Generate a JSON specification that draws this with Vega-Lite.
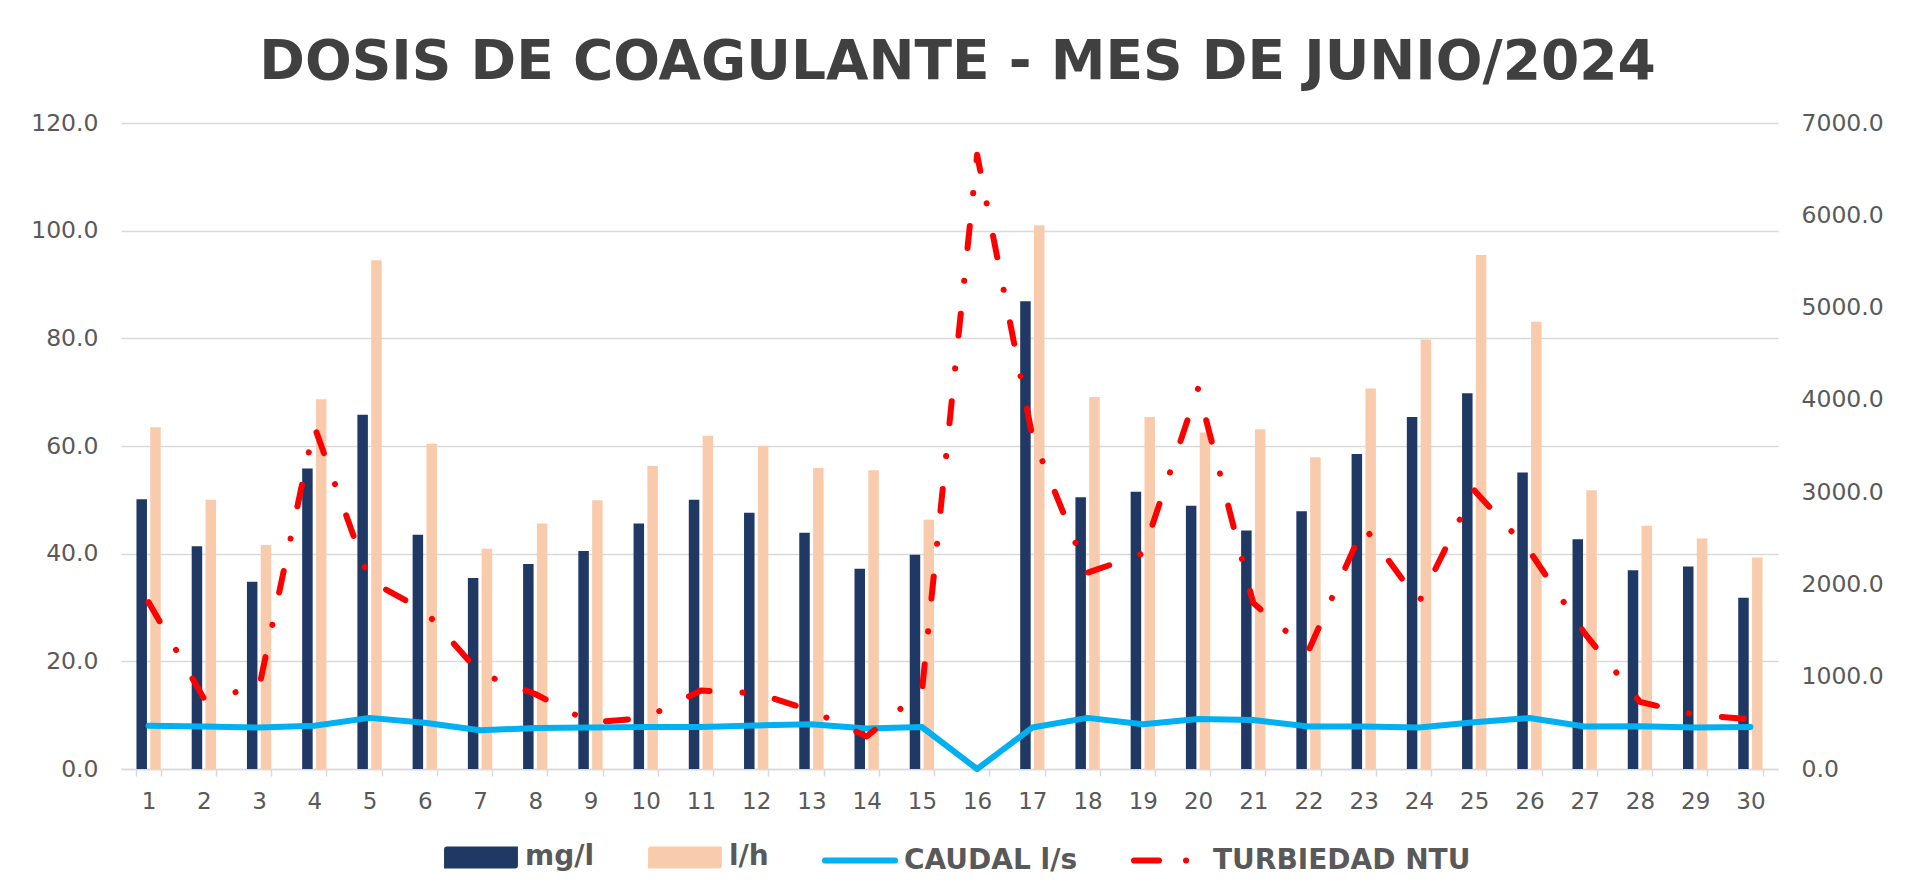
{
  "$schema": "https://vega.github.io/schema/vega-lite/v6.json",
  "autosize": "none",
  "width": 1657,
  "height": 646,
  "padding": {"left": 121, "top": 123, "right": 128, "bottom": 127},
  "background": "white",
  "config": {
    "view": {"stroke": null},
    "font": "DejaVu Sans"
  },
  "title": {
    "text": "DOSIS DE COAGULANTE - MES DE JUNIO/2024",
    "font": "DejaVu Sans",
    "fontSize": 55,
    "fontWeight": "bold",
    "color": "#404040",
    "anchor": "middle",
    "dx": 8,
    "offset": 20
  },
  "data": {
    "values": [
      {"dia": 1, "mg/l": 50.1, "l/h": 63.5, "caudal": 469, "turbiedad": 1808},
      {"dia": 2, "mg/l": 41.4, "l/h": 50.0, "caudal": 461, "turbiedad": 766},
      {"dia": 3, "mg/l": 34.8, "l/h": 41.6, "caudal": 449, "turbiedad": 883},
      {"dia": 4, "mg/l": 55.8, "l/h": 68.7, "caudal": 469, "turbiedad": 3713},
      {"dia": 5, "mg/l": 65.8, "l/h": 94.5, "caudal": 554, "turbiedad": 2042},
      {"dia": 6, "mg/l": 43.5, "l/h": 60.4, "caudal": 502, "turbiedad": 1713},
      {"dia": 7, "mg/l": 35.5, "l/h": 40.9, "caudal": 420, "turbiedad": 1038},
      {"dia": 8, "mg/l": 38.1, "l/h": 45.6, "caudal": 443, "turbiedad": 813},
      {"dia": 9, "mg/l": 40.5, "l/h": 49.9, "caudal": 449, "turbiedad": 502},
      {"dia": 10, "mg/l": 45.6, "l/h": 56.3, "caudal": 455, "turbiedad": 554},
      {"dia": 11, "mg/l": 50.0, "l/h": 61.9, "caudal": 455, "turbiedad": 850},
      {"dia": 12, "mg/l": 47.6, "l/h": 60.0, "caudal": 472, "turbiedad": 822},
      {"dia": 13, "mg/l": 43.9, "l/h": 55.9, "caudal": 484, "turbiedad": 634},
      {"dia": 14, "mg/l": 37.2, "l/h": 55.5, "caudal": 438, "turbiedad": 352},
      {"dia": 15, "mg/l": 39.8, "l/h": 46.3, "caudal": 455, "turbiedad": 841},
      {"dia": 16, "mg/l": null, "l/h": null, "caudal": 0, "turbiedad": 6656},
      {"dia": 17, "mg/l": 86.9, "l/h": 101.0, "caudal": 449, "turbiedad": 3605},
      {"dia": 18, "mg/l": 50.5, "l/h": 69.1, "caudal": 554, "turbiedad": 2127},
      {"dia": 19, "mg/l": 51.5, "l/h": 65.4, "caudal": 484, "turbiedad": 2334},
      {"dia": 20, "mg/l": 48.9, "l/h": 62.5, "caudal": 542, "turbiedad": 4122},
      {"dia": 21, "mg/l": 44.3, "l/h": 63.1, "caudal": 531, "turbiedad": 1798},
      {"dia": 22, "mg/l": 47.9, "l/h": 57.9, "caudal": 461, "turbiedad": 1282},
      {"dia": 23, "mg/l": 58.5, "l/h": 70.7, "caudal": 461, "turbiedad": 2630},
      {"dia": 24, "mg/l": 65.4, "l/h": 79.8, "caudal": 449, "turbiedad": 1808},
      {"dia": 25, "mg/l": 69.8, "l/h": 95.5, "caudal": 507, "turbiedad": 3020},
      {"dia": 26, "mg/l": 55.1, "l/h": 83.1, "caudal": 552, "turbiedad": 2362},
      {"dia": 27, "mg/l": 42.7, "l/h": 51.8, "caudal": 461, "turbiedad": 1470},
      {"dia": 28, "mg/l": 36.9, "l/h": 45.2, "caudal": 464, "turbiedad": 728},
      {"dia": 29, "mg/l": 37.6, "l/h": 42.8, "caudal": 449, "turbiedad": 587},
      {"dia": 30, "mg/l": 31.8, "l/h": 39.3, "caudal": 455, "turbiedad": 540}
    ]
  },
  "encoding": {
    "x": {
      "field": "dia",
      "type": "ordinal",
      "scale": {"paddingInner": 0.56, "paddingOuter": 0.28},
      "axis": {
        "title": null,
        "labelAngle": 0,
        "labelFont": "DejaVu Sans",
        "labelFontSize": 23,
        "labelColor": "#595959",
        "labelPadding": 14,
        "domainColor": "#D9D9D9",
        "domainWidth": 1.5,
        "tickColor": "#D9D9D9",
        "tickWidth": 1.5,
        "tickSize": 7,
        "tickBand": "extent",
        "grid": false
      }
    }
  },
  "layer": [
    {
      "transform": [{"fold": ["mg/l", "l/h"], "as": ["serie", "valor"]}],
      "mark": {"type": "bar"},
      "encoding": {
        "xOffset": {
          "field": "serie",
          "type": "nominal",
          "scale": {"domain": ["mg/l", "l/h"], "paddingInner": 0.24, "paddingOuter": 0}
        },
        "y": {
          "field": "valor",
          "type": "quantitative",
          "scale": {"domain": [0, 120], "nice": false},
          "axis": {
            "title": null,
            "values": [0, 20, 40, 60, 80, 100, 120],
            "format": ".1f",
            "grid": true,
            "gridColor": "#D9D9D9",
            "gridWidth": 1.5,
            "domain": false,
            "ticks": false,
            "labelFont": "DejaVu Sans",
            "labelFontSize": 23.5,
            "labelColor": "#595959",
            "labelPadding": 23
          }
        },
        "color": {
          "field": "serie",
          "type": "nominal",
          "scale": {
            "domain": ["mg/l", "l/h", "CAUDAL l/s", "TURBIEDAD NTU"],
            "range": ["#203864", "#F8CBAD", "#00B0F0", "#FF0000"]
          },
          "legend": {
            "orient": "none",
            "legendX": 322,
            "legendY": 696,
            "direction": "horizontal",
            "title": null,
            "symbolSize": 4900,
            "labelFont": "DejaVu Sans",
            "labelFontSize": 28,
            "labelFontWeight": "bold",
            "labelColor": "#595959",
            "labelOffset": 6,
            "labelLimit": 0,
            "columnPadding": 44,
            "padding": 0,
            "encode": {
              "symbols": {
                "update": {
                  "shape": {"signal": "datum.value === 'mg/l' || datum.value === 'l/h' ? 'M-0.97,-0.23H0.97V0.23H-0.97Z' : 'stroke'"},
                  "fill": {"signal": "datum.value === 'mg/l' || datum.value === 'l/h' ? scale('color', datum.value) : 'transparent'"},
                  "stroke": {"signal": "datum.value === 'mg/l' || datum.value === 'l/h' ? 'transparent' : scale('color', datum.value)"},
                  "strokeWidth": {"value": 6},
                  "strokeCap": {"value": "round"},
                  "strokeDash": {"signal": "datum.value === 'TURBIEDAD NTU' ? [25, 27, 0.1, 40] : [1, 0]"},
                  "opacity": {"value": 1},
                  "size": {"value": 4900}
                }
              }
            }
          }
        }
      }
    },
    {
      "layer": [
        {
          "mark": {"type": "line", "strokeWidth": 6, "strokeCap": "round", "strokeJoin": "round"},
          "encoding": {
            "y": {
              "field": "caudal",
              "type": "quantitative",
              "scale": {"domain": [0, 7000], "nice": false},
              "axis": {
                "orient": "right",
                "title": null,
                "values": [0, 1000, 2000, 3000, 4000, 5000, 6000, 7000],
                "format": ".1f",
                "grid": false,
                "domain": false,
                "ticks": false,
                "labelFont": "DejaVu Sans",
                "labelFontSize": 23.5,
                "labelColor": "#595959",
                "labelPadding": 23
              }
            },
            "color": {"datum": "CAUDAL l/s"}
          }
        },
        {
          "mark": {"type": "line", "strokeWidth": 6, "strokeCap": "round", "strokeJoin": "round", "strokeDash": [22, 33, 0.1, 33]},
          "encoding": {
            "y": {
              "field": "turbiedad",
              "type": "quantitative",
              "scale": {"domain": [0, 7000], "nice": false},
              "axis": {
                "orient": "right",
                "title": null,
                "values": [0, 1000, 2000, 3000, 4000, 5000, 6000, 7000],
                "format": ".1f",
                "grid": false,
                "domain": false,
                "ticks": false,
                "labelFont": "DejaVu Sans",
                "labelFontSize": 23.5,
                "labelColor": "#595959",
                "labelPadding": 23
              }
            },
            "color": {"datum": "TURBIEDAD NTU"}
          }
        }
      ]
    }
  ],
  "resolve": {"scale": {"y": "independent"}}
}
